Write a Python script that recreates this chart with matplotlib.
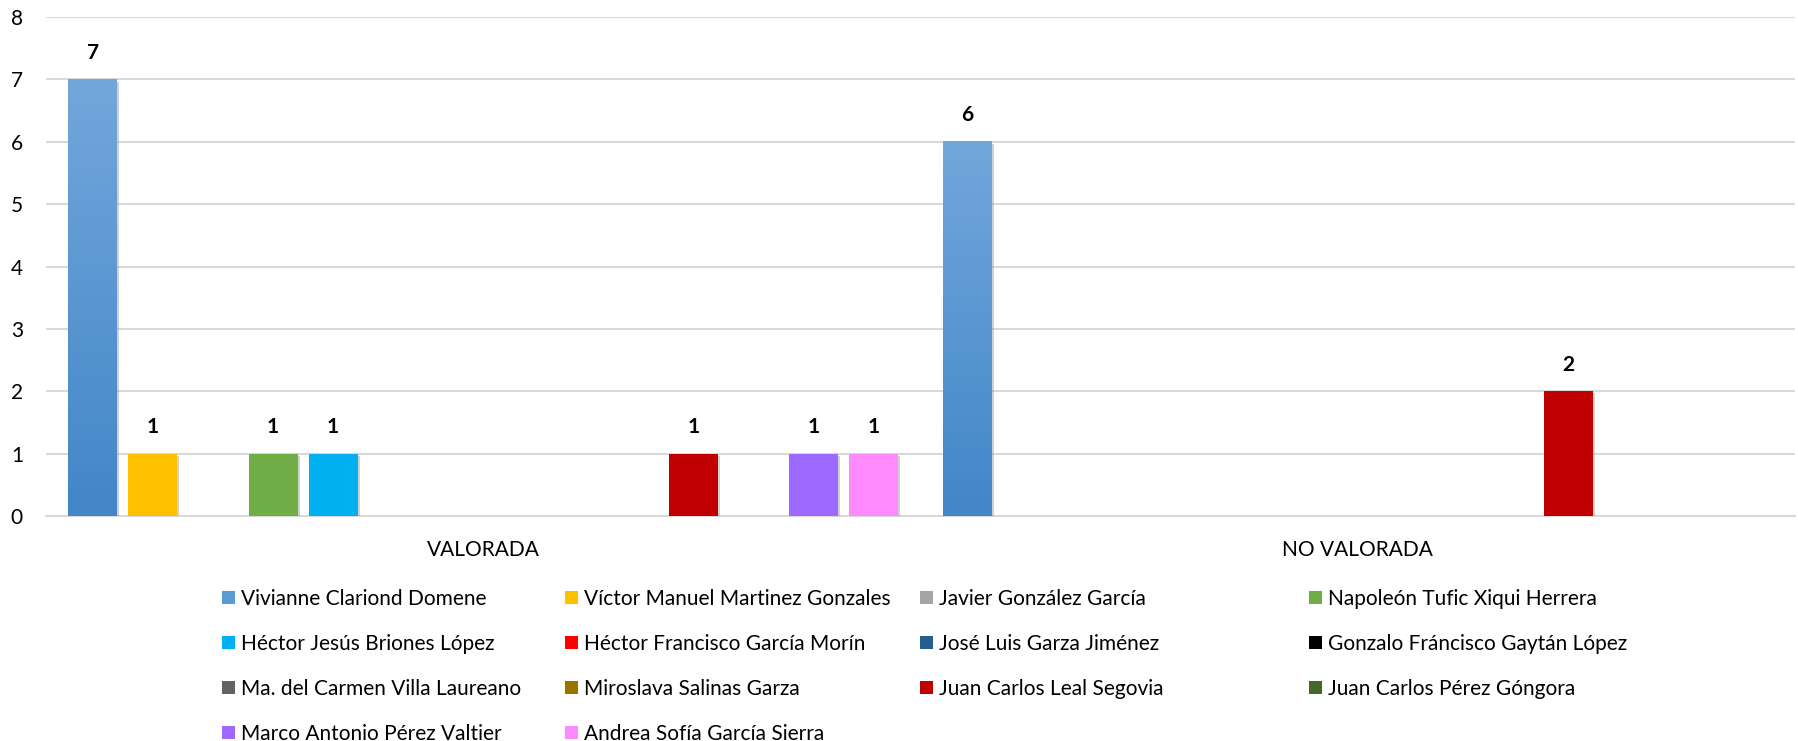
import numpy as np
import matplotlib
matplotlib.use("Agg")
import matplotlib.pyplot as plt
import matplotlib.patheffects as pe
from matplotlib.patches import Patch

plt.rcParams["font.family"] = ["Lato", "DejaVu Sans"]

CATEGORIES = ["VALORADA", "NO VALORADA"]
NAMES = [
    "Vivianne Clariond Domene",
    "Víctor Manuel Martinez Gonzales",
    "Javier González García",
    "Napoleón Tufic Xiqui Herrera",
    "Héctor Jesús Briones López",
    "Héctor Francisco García Morín",
    "José Luis Garza Jiménez",
    "Gonzalo Fráncisco Gaytán López",
    "Ma. del Carmen Villa Laureano",
    "Miroslava Salinas Garza",
    "Juan Carlos Leal Segovia",
    "Juan Carlos Pérez Góngora",
    "Marco Antonio Pérez Valtier",
    "Andrea Sofía García Sierra",
]
VALORADA = [7, 1, 0, 1, 1, 0, 0, 0, 0, 0, 1, 0, 1, 1]
NO_VALORADA = [6, 0, 0, 0, 0, 0, 0, 0, 0, 0, 2, 0, 0, 0]
COLORS = ["#5B9BD5", "#FFC000", "#A5A5A5", "#70AD47", "#00B0F0", "#FF0000",
          "#255E91", "#000000", "#636363", "#997300", "#C00000", "#43682B",
          "#9E69FF", "#FF89FF"]

FS = 15

fig = plt.figure(figsize=(17.98, 7.41), dpi=100)
ax = fig.add_axes([0.0256, 0.3036, 0.9728, 0.6734])

slot = 0.0687
width = 0.056
x = np.arange(len(CATEGORIES))
values = np.array([VALORADA, NO_VALORADA]).T
shadow = [pe.SimplePatchShadow(offset=(1.5, -1.5), shadow_rgbFace="#999999", alpha=0.45),
          pe.Normal()]
cmap = matplotlib.colors.LinearSegmentedColormap.from_list("g", ["#4286C8", "#72A7DB"])

for i, (name, col) in enumerate(zip(NAMES, COLORS)):
    pos = x + (i - 6.5) * slot
    bars = ax.bar(pos, values[i], width=width, color=col, zorder=3)
    for b, v in zip(bars, values[i]):
        if v <= 0:
            b.set_visible(False)
            continue
        b.set_path_effects(shadow)
        if i == 0:
            # light-to-dark vertical gradient like the original
            grad = np.linspace(0, 1, 256).reshape(-1, 1)
            ax.imshow(grad, cmap=cmap, aspect="auto", origin="lower",
                      extent=(b.get_x(), b.get_x() + b.get_width(), 0, v),
                      zorder=3.5)
        ax.annotate(f"{v}", (b.get_x() + b.get_width() / 2, v),
                    xytext=(0, 19), textcoords="offset points",
                    ha="center", va="center", fontsize=FS, fontweight="bold",
                    color="#000000", zorder=5)

ax.set_xlim(-0.5, 1.5)
ax.set_ylim(0, 8)
ax.set_yticks(range(0, 9))
ax.set_xticks(x)
ax.set_xticklabels(CATEGORIES)
ax.tick_params(axis="both", length=0, labelsize=FS, colors="#000000")
ax.tick_params(axis="x", pad=17)
ax.tick_params(axis="y", pad=21)
for lbl in ax.get_yticklabels():
    lbl.set_horizontalalignment("center")
ax.grid(axis="y", color="#D9D9D9", lw=1.5, zorder=0)
for s in ["top", "right", "left"]:
    ax.spines[s].set_visible(False)
ax.spines["bottom"].set_color("#D9D9D9")
ax.spines["bottom"].set_linewidth(1.5)

# legend: 4 columns laid out row by row, like the original
col_x = [229, 572, 927, 1316]
row_y0 = 601
for c in range(4):
    idx = list(range(c, len(NAMES), 4))
    hs = [Patch(facecolor=COLORS[k]) for k in idx]
    fig.legend(hs, [NAMES[k] for k in idx], loc="upper left",
               bbox_to_anchor=((col_x[c] - 7) / 1798, 1 - (row_y0 - 12) / 741),
               frameon=False, fontsize=FS, handlelength=0.62, handleheight=0.62,
               handletextpad=0.3, labelspacing=1.2, borderaxespad=0,
               borderpad=0)

fig.savefig("out.png", dpi=100)
